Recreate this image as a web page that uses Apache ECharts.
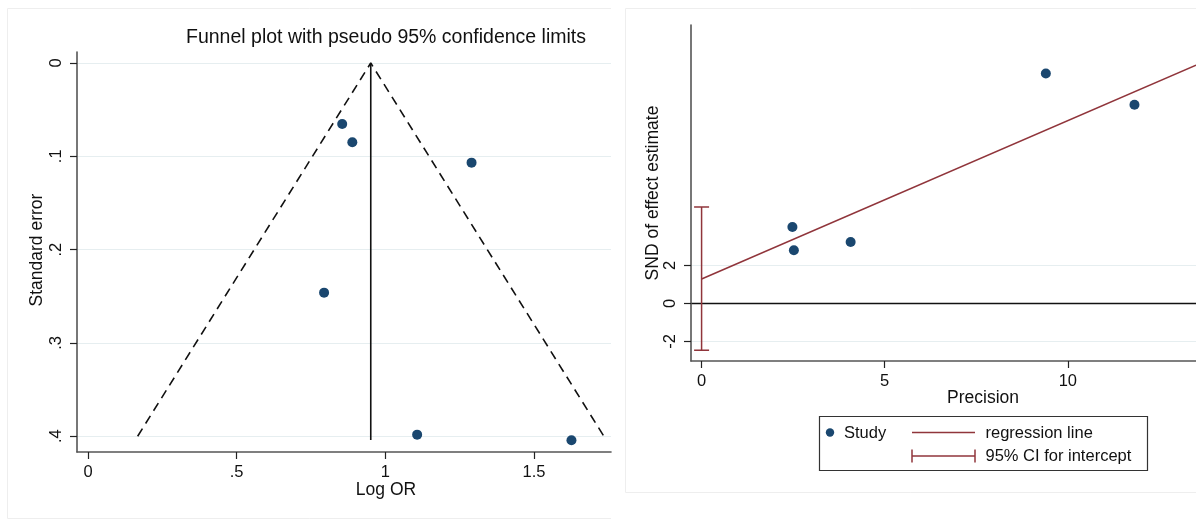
<!DOCTYPE html>
<html>
<head>
<meta charset="utf-8">
<script src="https://cdn.jsdelivr.net/npm/echarts@6/dist/echarts.min.js"></script>
<style>
html,body{margin:0;padding:0;background:#fff;}
#c{width:1196px;height:520px;}
</style>
</head>
<body>
<div id="c"></div>
<script>
// ---- Left panel: funnel plot ----
const logOR = [0.855, 0.889, 1.290, 0.794, 1.107, 1.626];
const stdErr = [0.0654, 0.085, 0.1068, 0.2461, 0.3983, 0.4044];
const pooled = 0.951;
const funnelX = [0.167, 0.951, 1.735];
const funnelY = [0.4, 0, 0.4];
const pooledLineY = [0, 0.404];
const leftXTicks = [0, 0.5, 1, 1.5];
const leftXLabels = ['0', '.5', '1', '1.5'];
const leftYTicks = [0, 0.1, 0.2, 0.3, 0.4];
const leftYLabels = ['0', '.1', '.2', '.3', '.4'];

// ---- Right panel: Egger regression ----
const precision = [11.82, 9.40, 4.07, 2.52, 2.48];
const snd = [10.45, 12.10, 3.23, 2.79, 4.02];
const regX = [0, 13.5];
const regY = [1.28, 12.54];
const ciX = 0;
const ciLow = -2.47;
const ciHigh = 5.07;
const rightXTicks = [0, 5, 10];
const rightYTicks = [-2, 0, 2];
const rightGrid = [-2, 2];

const NAVY = '#1a476f';
const MAROON = '#90353b';
const GRIDC = '#e6eef0';
const AXISC = '#555';
const FONT = 'Liberation Sans, Arial, sans-serif';
const FS = 16.5;

const chart = echarts.init(document.getElementById('c'), null, {renderer: 'canvas'});

function fmtMap(vals, labels) {
  return v => {
    for (let i = 0; i < vals.length; i++) if (Math.abs(vals[i] - v) < 1e-9) return labels[i];
    return String(v);
  };
}

const frameStyle = {stroke: '#eeeeee', lineWidth: 1};

const option = {
  backgroundColor: '#fff',
  animation: false,
  grid: [
    {left: 77, top: 52, width: 534, height: 400},
    {left: 691, top: 25, width: 505, height: 336}
  ],
  xAxis: [
    {
      gridIndex: 0, type: 'value', min: -0.037, max: 1.759,
      axisLine: {show: true, onZero: false, lineStyle: {color: AXISC, width: 1.6}},
      axisTick: {show: true, length: 7, customValues: leftXTicks, lineStyle: {color: '#222', width: 1.2}},
      axisLabel: {customValues: leftXTicks, formatter: fmtMap(leftXTicks, leftXLabels), margin: 12,
        color: '#111', fontFamily: FONT, fontSize: FS},
      splitLine: {show: false}
    },
    {
      gridIndex: 1, type: 'value', min: -0.289, max: 13.5,
      axisLine: {show: true, onZero: false, lineStyle: {color: AXISC, width: 1.6}},
      axisTick: {show: true, length: 7, customValues: rightXTicks, lineStyle: {color: '#222', width: 1.2}},
      axisLabel: {customValues: rightXTicks, margin: 12, color: '#111', fontFamily: FONT, fontSize: FS},
      splitLine: {show: false}
    }
  ],
  yAxis: [
    {
      gridIndex: 0, type: 'value', inverse: true, min: -0.0118, max: 0.4169,
      axisLine: {show: true, onZero: false, lineStyle: {color: AXISC, width: 1.6}},
      axisTick: {show: true, length: 7, customValues: leftYTicks, lineStyle: {color: '#222', width: 1.2}},
      axisLabel: {customValues: leftYTicks, formatter: fmtMap(leftYTicks, leftYLabels), rotate: 90, margin: 12,
        color: '#111', fontFamily: FONT, fontSize: FS},
      splitLine: {show: false}
    },
    {
      gridIndex: 1, type: 'value', min: -3.037, max: 14.65,
      axisLine: {show: true, onZero: false, lineStyle: {color: AXISC, width: 1.6}},
      axisTick: {show: true, length: 7, customValues: rightYTicks, lineStyle: {color: '#222', width: 1.2}},
      axisLabel: {customValues: rightYTicks, rotate: 90, margin: 12, color: '#111', fontFamily: FONT, fontSize: FS},
      splitLine: {show: false}
    }
  ],
  series: [
    {
      type: 'line', xAxisIndex: 0, yAxisIndex: 0, data: [], silent: true, z: 0,
      markLine: {silent: true, symbol: 'none', label: {show: false}, z: 0,
        lineStyle: {color: GRIDC, type: 'solid', width: 1.2},
        data: leftYTicks.map(v => ({yAxis: v}))}
    },
    {
      type: 'line', xAxisIndex: 0, yAxisIndex: 0, symbol: 'none', silent: true, z: 5,
      data: funnelX.map((x, i) => [x, funnelY[i]]),
      lineStyle: {color: '#111', width: 1.6, type: [9, 6]}
    },
    {
      type: 'line', xAxisIndex: 0, yAxisIndex: 0, symbol: 'none', silent: true, z: 5,
      data: pooledLineY.map(y => [pooled, y]),
      lineStyle: {color: '#111', width: 1.6}
    },
    {
      type: 'scatter', xAxisIndex: 0, yAxisIndex: 0, symbolSize: 10, z: 6,
      data: logOR.map((x, i) => [x, stdErr[i]]),
      itemStyle: {color: NAVY, opacity: 1}
    },
    {
      type: 'line', xAxisIndex: 1, yAxisIndex: 1, data: [], silent: true, z: 0,
      markLine: {silent: true, symbol: 'none', label: {show: false}, z: 0,
        data: rightGrid.map(v => ({yAxis: v, lineStyle: {color: GRIDC, type: 'solid', width: 1.2}}))
          .concat([{yAxis: 0, lineStyle: {color: '#111', type: 'solid', width: 1.4}}])}
    },
    {
      type: 'line', xAxisIndex: 1, yAxisIndex: 1, symbol: 'none', silent: true, z: 5,
      data: regX.map((x, i) => [x, regY[i]]),
      lineStyle: {color: MAROON, width: 1.5}
    },
    {
      type: 'custom', xAxisIndex: 1, yAxisIndex: 1, silent: true, z: 5,
      data: [[ciX, ciLow, ciHigh]],
      renderItem: function (params, api) {
        const lo = api.coord([api.value(0), api.value(1)]);
        const hi = api.coord([api.value(0), api.value(2)]);
        const hw = 7.5;
        const st = {stroke: MAROON, lineWidth: 1.5};
        return {
          type: 'group', children: [
            {type: 'line', shape: {x1: lo[0], y1: lo[1], x2: hi[0], y2: hi[1]}, style: st},
            {type: 'line', shape: {x1: lo[0] - hw, y1: lo[1], x2: lo[0] + hw, y2: lo[1]}, style: st},
            {type: 'line', shape: {x1: hi[0] - hw, y1: hi[1], x2: hi[0] + hw, y2: hi[1]}, style: st}
          ]
        };
      }
    },
    {
      type: 'scatter', xAxisIndex: 1, yAxisIndex: 1, symbolSize: 10, z: 6,
      data: precision.map((x, i) => [x, snd[i]]),
      itemStyle: {color: NAVY, opacity: 1}
    }
  ],
  graphic: [
    {type: 'polyline', z: -10, shape: {points: [[611, 8.5], [7.5, 8.5], [7.5, 518.5], [611, 518.5]]}, style: Object.assign({fill: null}, frameStyle)},
    {type: 'polyline', z: -10, shape: {points: [[1196, 8.5], [625.5, 8.5], [625.5, 492.5], [1196, 492.5]]}, style: Object.assign({fill: null}, frameStyle)},
    {type: 'text', x: 386, y: 38, style: {text: 'Funnel plot with pseudo 95% confidence limits', fill: '#111', font: '19.5px ' + FONT, textAlign: 'center', textVerticalAlign: 'middle'}},
    {type: 'text', x: 386, y: 490, style: {text: 'Log OR', fill: '#111', font: '17.5px ' + FONT, textAlign: 'center', textVerticalAlign: 'middle'}},
    {type: 'text', x: 37, y: 250, rotation: Math.PI / 2, style: {text: 'Standard error', fill: '#111', font: '17.5px ' + FONT, textAlign: 'center', textVerticalAlign: 'middle'}},
    {type: 'text', x: 983, y: 398, style: {text: 'Precision', fill: '#111', font: '17.5px ' + FONT, textAlign: 'center', textVerticalAlign: 'middle'}},
    {type: 'text', x: 653.5, y: 193, rotation: Math.PI / 2, style: {text: 'SND of effect estimate', fill: '#111', font: '17.5px ' + FONT, textAlign: 'center', textVerticalAlign: 'middle'}},
    {type: 'rect', shape: {x: 819.5, y: 416.5, width: 328, height: 54}, style: {fill: '#fff', stroke: '#333', lineWidth: 1.2}},
    {type: 'circle', shape: {cx: 830, cy: 432.5, r: 4.2}, style: {fill: NAVY}},
    {type: 'text', x: 844, y: 433, style: {text: 'Study', fill: '#111', font: FS + 'px ' + FONT, textVerticalAlign: 'middle'}},
    {type: 'line', shape: {x1: 912, y1: 432.5, x2: 975, y2: 432.5}, style: {stroke: MAROON, lineWidth: 1.5}},
    {type: 'text', x: 985.5, y: 433, style: {text: 'regression line', fill: '#111', font: FS + 'px ' + FONT, textVerticalAlign: 'middle'}},
    {type: 'line', shape: {x1: 912, y1: 456, x2: 975, y2: 456}, style: {stroke: MAROON, lineWidth: 1.5}},
    {type: 'line', shape: {x1: 912, y1: 449.5, x2: 912, y2: 462.5}, style: {stroke: MAROON, lineWidth: 1.5}},
    {type: 'line', shape: {x1: 975, y1: 449.5, x2: 975, y2: 462.5}, style: {stroke: MAROON, lineWidth: 1.5}},
    {type: 'text', x: 985.5, y: 456.5, style: {text: '95% CI for intercept', fill: '#111', font: FS + 'px ' + FONT, textVerticalAlign: 'middle'}}
  ]
};
chart.setOption(option);
</script>
</body>
</html>
